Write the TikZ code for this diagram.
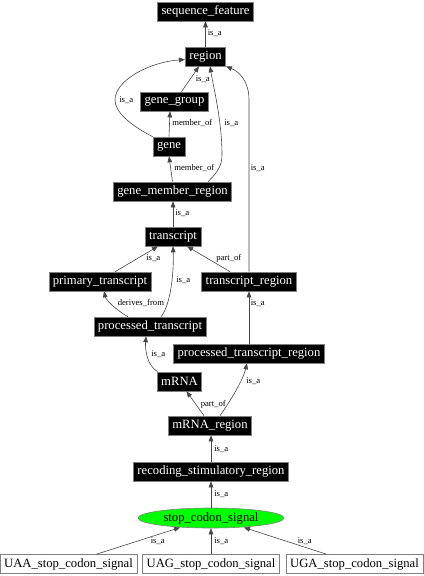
\documentclass[tikz,border=0pt]{standalone}
\usepackage{fontspec}
\setmainfont{Liberation Serif}
\usetikzlibrary{arrows.meta,calc,shapes.geometric}

\newfontfamily\termfont{Liberation Serif}
\tikzset{every picture/.style={line width=0.45pt}}
\tikzset{
  termbox/.style={draw={rgb, 255:red, 128; green, 128; blue, 128 }, fill=black, text=white, font=\termfont\fontsize{9.5}{10}\selectfont, minimum height=14.25pt, inner xsep=3pt, inner ysep=0pt},
  leafbox/.style={termbox, fill=white, text=black},
  signalnode/.style={ellipse, draw={rgb, 255:red, 128; green, 128; blue, 128 }, fill={rgb, 255:red, 0; green, 255; blue, 0 }, font=\termfont\fontsize{9.5}{10}\selectfont, minimum width=109.5pt, minimum height=15pt, inner sep=0pt},
  relline/.style={draw={rgb, 255:red, 70; green, 70; blue, 70 }, -{Triangle[length=4.5pt,width=3.5pt]}},
  rellabel/.style={anchor=west, inner sep=0pt, font=\termfont\fontsize{6.5}{7}\selectfont}
}

\begin{document}
\begin{tikzpicture}[x=0.75pt,y=0.75pt,yscale=-1,xscale=1]
\useasboundingbox (0,0) rectangle (424,576);

% Term Nodes
\node (seqfeat) at (205.5,11.5) [termbox] {sequence\_feature};
\node (region) at (205.5,56.5) [termbox] {region};
\node (genegroup) at (174.5,101.5) [termbox] {gene\_group};
\node (gene) at (169,146.5) [termbox] {gene};
\node (genemember) at (172.5,191.5) [termbox] {gene\_member\_region};
\node (transcript) at (173,236.5) [termbox] {transcript};
\node (primary) at (100,281.5) [termbox] {primary\_transcript};
\node (trregion) at (249,281.5) [termbox] {transcript\_region};
\node (processed) at (150,326.5) [termbox] {processed\_transcript};
\node (procregion) at (249,353.5) [termbox] {processed\_transcript\_region};
\node (mrna) at (179.5,381.5) [termbox] {mRNA};
\node (mrnaregion) at (210,425.5) [termbox] {mRNA\_region};
\node (recoding) at (211,471.5) [termbox] {recoding\_stimulatory\_region};
% Ellipse
\node (stopsignal) at (211,518) [signalnode] {stop\_codon\_signal};
% Leaf Nodes
\node (uaa) at (68.5,564) [leafbox] {UAA\_stop\_codon\_signal};
\node (uag) at (211,564) [leafbox] {UAG\_stop\_codon\_signal};
\node (uga) at (354.5,564) [leafbox] {UGA\_stop\_codon\_signal};

%Straight Lines
\draw [relline] (region.north) -- (seqfeat.south) ;
\draw [relline] ($(genegroup.north)+(7,0)$) -- ($(region.south)+(-6.5,0)$) ;
\draw [relline] (gene.north) -- ($(genegroup.south)+(-4.5,0)$) ;
\draw [relline] (genemember.north) -- (gene.south) ;
\draw [relline] (transcript.north) -- (transcript.north |- genemember.south) ;
\draw [relline] ($(primary.north)+(15,0)$) -- ($(transcript.south)+(-15,0)$) ;
\draw [relline] ($(trregion.north)+(-19,0)$) -- ($(transcript.south)+(14,0)$) ;
\draw [relline] (procregion.north) -- (trregion.south) ;
\draw [relline] ($(mrnaregion.north)+(-6,0)$) -- ($(mrna.south)+(7,0)$) ;
\draw [relline] (recoding.north) -- (recoding.north |- mrnaregion.south) ;
\draw [relline] (stopsignal.north) -- (recoding.south) ;
\draw [relline] ($(uaa.north)+(28,0)$) -- ($(stopsignal.center)+(-31,9.5)$) ;
\draw [relline] (uag.north) -- (stopsignal.south) ;
\draw [relline] ($(uga.north)+(-28,0)$) -- ($(stopsignal.center)+(33,9.5)$) ;

%Curve Lines
\draw [relline] (gene.north west) .. controls (130,125) and (115,112) .. (115,100) .. controls (115,80) and (150,62) .. ($(region.west)+(0,3)$) ;
\draw [relline] ($(genemember.north)+(35.5,0)$) .. controls (218,172) and (222,165) .. (222,155) .. controls (222,120) and (213,85) .. ($(region.south)+(4.5,0)$) ;
\draw [relline] (trregion.north) -- (249,100) .. controls (249,82) and (240,72) .. (region.south east) ;
\draw [relline] ($(processed.north)+(-22,0)$) .. controls (116,310) and (106,300) .. ($(primary.south)+(4,0)$) ;
\draw [relline] ($(processed.north)+(11,0)$) .. controls (171,305) and (174,270) .. (transcript.south) ;
\draw [relline] ($(mrna.north)+(-22,0)$) .. controls (147,365) and (145,350) .. ($(processed.south)+(-4,0)$) ;
\draw [relline] ($(mrnaregion.north)+(10,0)$) .. controls (231,400) and (243,380) .. ($(procregion.south)+(-2,0)$) ;

% Text Node
\node (l1) at (207.5,33.5) [rellabel] {is\_a};
\node (l2) at (195.5,79) [rellabel] {is\_a};
\node (l3) at (119,100) [rellabel] {is\_a};
\node (l4) at (172,123.5) [rellabel] {member\_of};
\node (l5) at (224,123.5) [rellabel] {is\_a};
\node (l6) at (174,168.5) [rellabel] {member\_of};
\node (l7) at (250.5,168.5) [rellabel] {is\_a};
\node (l8) at (175,213.5) [rellabel] {is\_a};
\node (l9) at (146,258.5) [rellabel] {is\_a};
\node (l10) at (216,258.5) [rellabel] {part\_of};
\node (l11) at (176,280.5) [rellabel] {is\_a};
\node (l12) at (117.5,303.5) [rellabel] {derives\_from};
\node (l13) at (250.5,303.5) [rellabel] {is\_a};
\node (l14) at (151,354) [rellabel] {is\_a};
\node (l15) at (246,381.5) [rellabel] {is\_a};
\node (l16) at (200.5,404) [rellabel] {part\_of};
\node (l17) at (214,449) [rellabel] {is\_a};
\node (l18) at (214,494) [rellabel] {is\_a};
\node (l19) at (150.5,541.5) [rellabel] {is\_a};
\node (l20) at (214,541.5) [rellabel] {is\_a};
\node (l21) at (297.5,541.5) [rellabel] {is\_a};

\end{tikzpicture}
\end{document}
